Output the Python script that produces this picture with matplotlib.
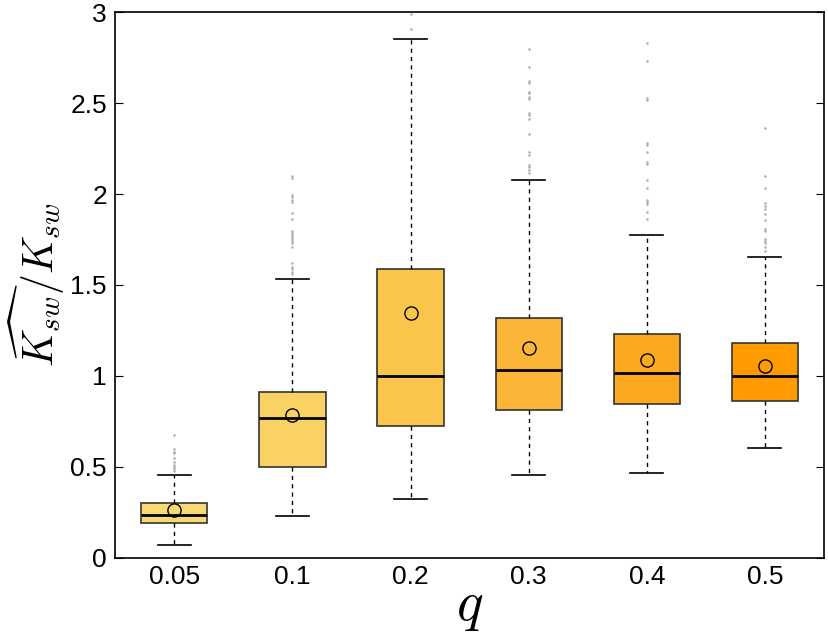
import matplotlib
matplotlib.use('Agg')
import matplotlib.pyplot as plt

plt.rcParams['font.family'] = ['Liberation Sans', 'DejaVu Sans']
plt.rcParams['mathtext.fontset'] = 'cm'

q_labels = ['0.05', '0.1', '0.2', '0.3', '0.4', '0.5']
box_colors = ['#F9D972', '#FAD264', '#FAC54B', '#FBB537', '#FDA920', '#FF9B00']

# box statistics
q1 = [0.194, 0.498, 0.727, 0.813, 0.846, 0.864]
med = [0.236, 0.767, 1.000, 1.033, 1.018, 1.002]
q3 = [0.302, 0.914, 1.586, 1.319, 1.232, 1.180]
mean = [0.262, 0.786, 1.344, 1.152, 1.090, 1.057]
whislo = [0.070, 0.231, 0.322, 0.456, 0.469, 0.606]
whishi = [0.454, 1.533, 2.853, 2.077, 1.777, 1.656]
fliers = [
    [0.676, 0.597, 0.584, 0.575, 0.548, 0.529, 0.511, 0.502, 0.487, 0.480],
    [2.100, 2.090, 1.995, 1.985, 1.967, 1.956, 1.897, 1.861, 1.798, 1.784,
     1.773, 1.762, 1.751, 1.740, 1.729, 1.711, 1.619, 1.601, 1.586, 1.573, 1.560],
    [2.905, 2.990],
    [2.795, 2.696, 2.623, 2.612, 2.562, 2.553, 2.531, 2.524, 2.443, 2.432,
     2.414, 2.330, 2.231, 2.212, 2.157, 2.146, 2.132, 2.117],
    [2.831, 2.733, 2.529, 2.518, 2.282, 2.271, 2.231, 2.176, 2.165, 2.077,
     2.033, 1.967, 1.956, 1.945, 1.901, 1.861],
    [2.363, 2.099, 2.033, 1.952, 1.934, 1.916, 1.890, 1.857, 1.806, 1.795,
     1.751, 1.740, 1.729, 1.711, 1.689],
]

stats = []
for i in range(len(q_labels)):
    stats.append(dict(q1=q1[i], med=med[i], q3=q3[i], mean=mean[i],
                      whislo=whislo[i], whishi=whishi[i], fliers=fliers[i]))

fig = plt.figure(figsize=(8.29, 6.34), dpi=100)
ax = fig.add_axes([0.139, 0.120, 0.855, 0.861])

bp = ax.bxp(stats, positions=range(1, 7), widths=0.56, patch_artist=True,
            showmeans=True, showfliers=True,
            boxprops=dict(edgecolor='#333333', linewidth=1.2),
            medianprops=dict(color='black', linewidth=2),
            whiskerprops=dict(color='black', linestyle=(0, (3, 3)), linewidth=1),
            capprops=dict(color='black', linewidth=1.2),
            flierprops=dict(marker='o', markersize=1.8, markerfacecolor='#aaaaaa',
                            markeredgecolor='none', linestyle='none'),
            meanprops=dict(marker='o', markersize=9.5, markerfacecolor='none',
                           markeredgecolor='black', markeredgewidth=1))
for patch, c in zip(bp['boxes'], box_colors):
    patch.set_facecolor(c)

ax.set_xlim(0.5, 6.5)
ax.set_ylim(0, 3)
ax.set_yticks([0, 0.5, 1, 1.5, 2, 2.5, 3])
ax.set_yticklabels(['0', '0.5', '1', '1.5', '2', '2.5', '3'])
ax.set_xticks(range(1, 7))
ax.set_xticklabels(q_labels)
ax.tick_params(axis='y', direction='in', length=6, right=True, labelsize=19, pad=6)
ax.tick_params(axis='x', length=0, labelsize=19, pad=5)
for s in ax.spines.values():
    s.set_linewidth(1.2)

ax.set_xlabel('$q$', fontsize=40, labelpad=-6)
ax.set_ylabel(r'$\widehat{K_{sw}}/K_{sw}$', fontsize=30, labelpad=2)

fig.savefig('out.png', dpi=100)
